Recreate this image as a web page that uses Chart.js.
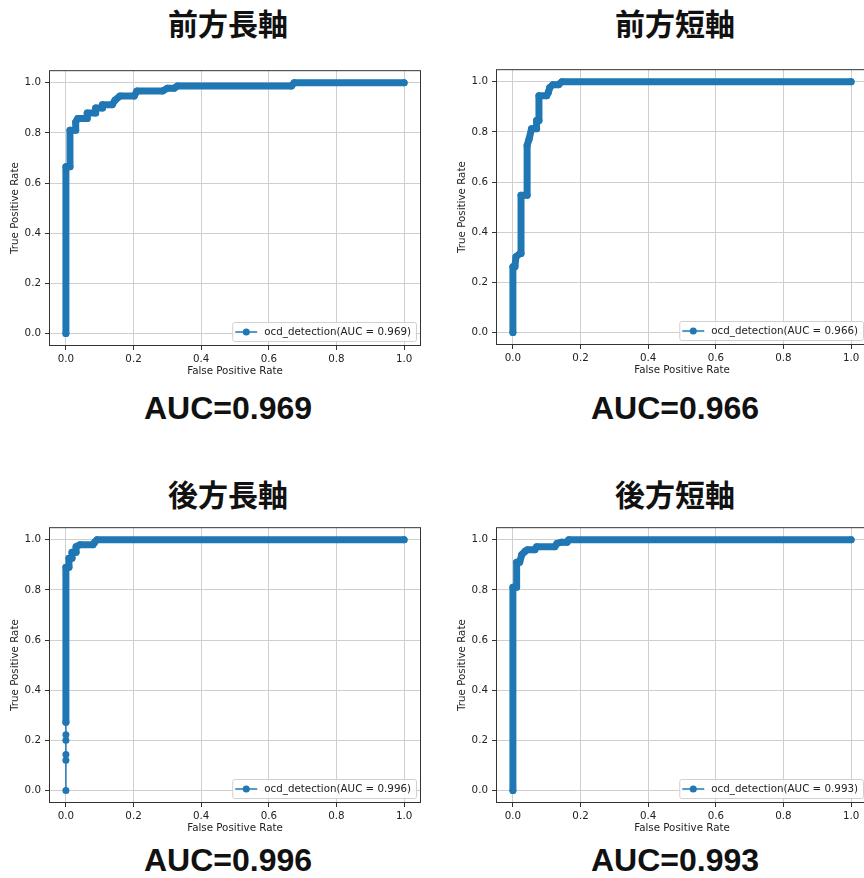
<!DOCTYPE html>
<html>
<head>
<meta charset="utf-8">
<script src="https://cdn.jsdelivr.net/npm/chart.js@4.4.1/dist/chart.umd.min.js"></script>
<style>
  html, body { margin: 0; padding: 0; background: #fff; }
  #page { position: relative; width: 864px; height: 878px; overflow: hidden; }
  canvas { position: absolute; }
  .title, .auc { position: absolute; width: 300px; text-align: center; color: #111; white-space: nowrap; }
  .title { font: 700 30px "Noto Sans CJK JP"; line-height: 40px; }
  .auc { font: 700 32px "Liberation Sans"; line-height: 40px; }
</style>
</head>
<body>
<div id="page"></div>
<script>
// tick labels shared by both axes
const tickValues = [0, 0.2, 0.4, 0.6, 0.8, 1.0];

const titles = ['前方長軸', '前方短軸', '後方長軸', '後方短軸'];
const aucValues = [0.969, 0.966, 0.996, 0.993];

// ROC curve vertices
const fprAntLong = [0, 0, 0.012, 0.012, 0.029, 0.029, 0.035, 0.063, 0.063, 0.088, 0.088, 0.108, 0.108, 0.137, 0.145, 0.16, 0.202, 0.21, 0.286, 0.3, 0.32, 0.33, 0.667, 0.675, 1.0];
const tprAntLong = [0, 0.665, 0.665, 0.81, 0.81, 0.843, 0.857, 0.857, 0.879, 0.879, 0.899, 0.899, 0.912, 0.912, 0.93, 0.947, 0.947, 0.967, 0.967, 0.978, 0.978, 0.987, 0.987, 1.0, 1.0];

const fprAntShort = [0, 0, 0.006, 0.009, 0.021, 0.024, 0.024, 0.042, 0.042, 0.048, 0.055, 0.07, 0.07, 0.077, 0.077, 0.1, 0.105, 0.109, 0.118, 0.135, 0.145, 1.0];
const tprAntShort = [0, 0.262, 0.262, 0.302, 0.315, 0.315, 0.547, 0.547, 0.746, 0.772, 0.812, 0.812, 0.845, 0.845, 0.944, 0.944, 0.958, 0.977, 0.988, 0.988, 1.0, 1.0];

const fprPostLong = [0, 0, 0, 0, 0, 0, 0, 0.009, 0.009, 0.018, 0.018, 0.03, 0.03, 0.042, 0.08, 0.085, 0.092, 1.0];
const tprPostLong = [0, 0.12, 0.143, 0.2, 0.222, 0.272, 0.89, 0.89, 0.926, 0.926, 0.95, 0.95, 0.972, 0.98, 0.98, 0.99, 1.0, 1.0];

const fprPostShort = [0, 0, 0.011, 0.011, 0.02, 0.026, 0.036, 0.043, 0.065, 0.07, 0.124, 0.13, 0.144, 0.16, 0.165, 1.0];
const tprPostShort = [0, 0.81, 0.81, 0.91, 0.91, 0.94, 0.954, 0.96, 0.96, 0.972, 0.972, 0.985, 0.99, 0.99, 1.0, 1.0];

const BLUE = '#1f77b4';
const FONT_SIZE = 10.3;

Chart.defaults.font.family = '"DejaVu Sans"';
Chart.defaults.font.size = FONT_SIZE;
Chart.defaults.color = '#222';

// panel placement: canvas corner, title / auc text centres, sparse segments at the start
const panels = [
    { fpr: fprAntLong, tpr: tprAntLong, left: 0, top: 60, tx: 228, ty: 24, ay: 408, thin: 0 },
    { fpr: fprAntShort, tpr: tprAntShort, left: 447, top: 59, tx: 675, ty: 24, ay: 408, thin: 0 },
    { fpr: fprPostLong, tpr: tprPostLong, left: 0, top: 517, tx: 228, ty: 495, ay: 860, thin: 5 },
    { fpr: fprPostShort, tpr: tprPostShort, left: 447, top: 517, tx: 675, ty: 495, ay: 860, thin: 0 },
];

// matplotlib-like frame and legend box in the lower right
const frameLegend = {
    id: 'frameLegend',
    afterDatasetsDraw(chart) {
        const { ctx, chartArea: a } = chart;
        ctx.save();
        ctx.strokeStyle = '#333';
        ctx.lineWidth = 1;
        ctx.strokeRect(a.left + 0.5, a.top + 0.5, a.width - 1, a.height - 1);

        const label = chart.data.datasets[0].label;
        ctx.font = FONT_SIZE + 'px "DejaVu Sans"';
        const w = ctx.measureText(label).width + 37;
        const h = 19;
        const x = a.right - 5 - w;
        const y = a.bottom - 5 - h;
        ctx.beginPath();
        ctx.roundRect(x + 0.5, y + 0.5, w, h, 2);
        ctx.fillStyle = 'rgba(255,255,255,0.85)';
        ctx.fill();
        ctx.strokeStyle = '#d0d0d0';
        ctx.stroke();

        const my = y + h / 2 + 0.5;
        ctx.strokeStyle = BLUE;
        ctx.lineWidth = 1.5;
        ctx.beginPath();
        ctx.moveTo(x + 3, my);
        ctx.lineTo(x + 25, my);
        ctx.stroke();
        ctx.fillStyle = BLUE;
        ctx.beginPath();
        ctx.arc(x + 14, my, 3.5, 0, Math.PI * 2);
        ctx.fill();

        ctx.fillStyle = '#222';
        ctx.textBaseline = 'middle';
        ctx.fillText(label, x + 32, my);
        ctx.restore();
    }
};

function axis(titleText, isY) {
    return {
        type: 'linear',
        min: -0.05,
        max: 1.05,
        afterBuildTicks: (scale) => { scale.ticks = tickValues.map(v => ({ value: v })); },
        afterFit: (scale) => {
            if (isY) scale.width = 49; else scale.height = 44;
        },
        ticks: {
            padding: isY ? 4 : 3,
            color: '#222',
            callback: (v) => Number(v).toFixed(1),
        },
        grid: { color: '#cfcfcf', lineWidth: 1, tickLength: 4, tickColor: '#333' },
        border: { display: false },
        title: {
            display: true,
            text: titleText,
            color: '#222',
            font: { size: FONT_SIZE },
            padding: isY ? { top: 9, bottom: 0 } : { top: 0, bottom: 12 },
        },
    };
}

const page = document.getElementById('page');

panels.forEach(function (p, i) {
    const auc = aucValues[i].toFixed(3);

    const t = document.createElement('div');
    t.className = 'title';
    t.textContent = titles[i];
    t.style.left = (p.tx - 150) + 'px';
    t.style.top = (p.ty - 22) + 'px';
    page.appendChild(t);

    const a = document.createElement('div');
    a.className = 'auc';
    a.textContent = 'AUC=' + auc;
    a.style.left = (p.tx - 150) + 'px';
    a.style.top = (p.ay - 20) + 'px';
    page.appendChild(a);

    const canvas = document.createElement('canvas');
    canvas.width = 430;
    canvas.height = 330;
    canvas.style.left = p.left + 'px';
    canvas.style.top = p.top + 'px';
    page.appendChild(canvas);

    new Chart(canvas.getContext('2d'), {
        type: 'scatter',
        data: {
            datasets: [{
                label: 'ocd_detection(AUC = ' + auc + ')',
                data: p.fpr.map((x, k) => ({ x: x, y: p.tpr[k] })),
                showLine: true,
                borderColor: BLUE,
                backgroundColor: BLUE,
                borderWidth: 7,
                borderCapStyle: 'round',
                borderJoinStyle: 'round',
                pointRadius: 3.5,
                pointBorderWidth: 0,
                pointBackgroundColor: BLUE,
                segment: {
                    borderWidth: (ctx) => ctx.p0DataIndex < p.thin ? 1.5 : 7,
                },
            }],
        },
        options: {
            responsive: false,
            animation: false,
            layout: { padding: { top: 10, right: 9, left: 0, bottom: 0 } },
            plugins: { legend: { display: false }, tooltip: { enabled: false } },
            scales: {
                x: axis('False Positive Rate', false),
                y: axis('True Positive Rate', true),
            },
        },
        plugins: [frameLegend],
    });
});
</script>
</body>
</html>
